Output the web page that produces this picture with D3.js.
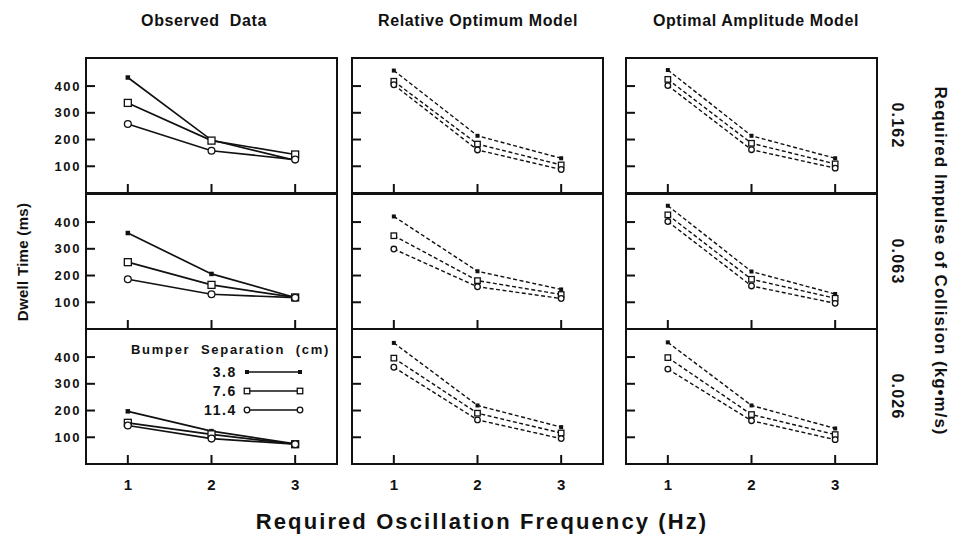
<!DOCTYPE html>
<html>
<head>
<meta charset="utf-8">
<script src="https://cdn.jsdelivr.net/npm/d3@7"></script>
<style>
  body { margin: 0; background: #fff; }
  svg text {
    font-family: "Liberation Sans", Arial, Helvetica, sans-serif;
    font-weight: bold;
    fill: #111;
    white-space: pre;
  }
</style>
</head>
<body>
<svg id="chart" width="960" height="535"></svg>
<script>
// data (ms), each row of a table = one bumper separation: 3.8, 7.6, 11.4 cm
const freqs = [1, 2, 3];
const separations = ['3.8', '7.6', '11.4'];
const impulses = ['0.162', '0.063', '0.026'];
const columnTitles = ['Observed  Data', 'Relative Optimum Model', 'Optimal Amplitude Model'];
const yTickValues = [100, 200, 300, 400];

const observed162 = [[432, 198, 122], [337, 196, 144], [258, 158, 125]];
const observed063 = [[359, 206, 118], [250, 165, 118], [186, 130, 117]];
const observed026 = [[197, 123, 75], [154, 111, 74], [144, 95, 74]];

const relative162 = [[458, 214, 130], [418, 183, 105], [405, 161, 88]];
const relative063 = [[421, 216, 148], [349, 181, 129], [299, 158, 114]];
const relative026 = [[453, 219, 138], [396, 190, 116], [362, 165, 95]];

const amplitude162 = [[460, 214, 130], [425, 186, 109], [402, 162, 93]];
const amplitude063 = [[461, 215, 131], [427, 186, 115], [402, 161, 96]];
const amplitude026 = [[455, 219, 133], [398, 185, 110], [355, 162, 91]];

const grid = [
  [observed162, relative162, amplitude162],
  [observed063, relative063, amplitude063],
  [observed026, relative026, amplitude026],
];

// layout
const colLeft = [86, 352, 626];
const titleX = [204, 478, 756];
const panelW = 251;
const rowTop = [58, 194, 329];
const panelH = 135;
const tickLen = 9;
const ink = '#111';

const svg = d3.select('#chart');

function drawMarker(g, kind, cx, cy, small) {
  const sq = small ? 5.5 : 7;
  const fsq = small ? 4 : 4.5;
  const r = small ? 2.8 : 3.4;
  if (kind === 0) {
    g.append('rect')
      .attr('x', cx - fsq / 2).attr('y', cy - fsq / 2)
      .attr('width', fsq).attr('height', fsq)
      .attr('fill', ink);
  } else if (kind === 1) {
    g.append('rect')
      .attr('x', cx - sq / 2).attr('y', cy - sq / 2)
      .attr('width', sq).attr('height', sq)
      .attr('fill', '#fff').attr('stroke', ink).attr('stroke-width', 1.3);
  } else {
    g.append('circle')
      .attr('cx', cx).attr('cy', cy).attr('r', r)
      .attr('fill', '#fff').attr('stroke', ink).attr('stroke-width', 1.3);
  }
}

function renderPanel(row, col) {
  const left = colLeft[col];
  const top = rowTop[row];
  const x = d3.scaleLinear().domain([0.5, 3.5]).range([left, left + panelW]);
  const y = d3.scaleLinear().domain([0, 505]).range([top + panelH, top]);
  const g = svg.append('g');
  const model = col > 0;

  // 1- frame
  g.append('rect')
    .attr('x', left).attr('y', top)
    .attr('width', panelW).attr('height', panelH)
    .attr('fill', 'none').attr('stroke', ink).attr('stroke-width', 2);

  // 2- inward ticks
  yTickValues.forEach((v) => {
    g.append('line')
      .attr('x1', left).attr('x2', left + tickLen)
      .attr('y1', y(v)).attr('y2', y(v))
      .attr('stroke', ink).attr('stroke-width', 2);
    if (col === 0) {
      g.append('text')
        .attr('x', 81).attr('y', y(v))
        .attr('text-anchor', 'end')
        .attr('dominant-baseline', 'central')
        .attr('font-size', 13)
        .attr('letter-spacing', 1.6)
        .text(v);
    }
  });
  freqs.forEach((f) => {
    g.append('line')
      .attr('x1', x(f)).attr('x2', x(f))
      .attr('y1', top + panelH).attr('y2', top + panelH - tickLen)
      .attr('stroke', ink).attr('stroke-width', 2);
    if (row === 2) {
      g.append('text')
        .attr('x', x(f)).attr('y', 484)
        .attr('text-anchor', 'middle')
        .attr('dominant-baseline', 'central')
        .attr('font-size', 15)
        .text(f);
    }
  });

  // 3- series lines then markers
  const line = d3.line().x((d, i) => x(freqs[i])).y((d) => y(d));
  const series = grid[row][col];
  series.forEach((vals) => {
    g.append('path')
      .attr('d', line(vals))
      .attr('fill', 'none')
      .attr('stroke', ink)
      .attr('stroke-width', model ? 1.4 : 1.7)
      .attr('stroke-dasharray', model ? '4,2.5' : null);
  });
  series.forEach((vals, k) => {
    vals.forEach((v, i) => drawMarker(g, k, x(freqs[i]), y(v), model));
  });
}

for (let r = 0; r < 3; r++) {
  for (let c = 0; c < 3; c++) renderPanel(r, c);
}

// column titles
columnTitles.forEach((t, c) => {
  svg.append('text')
    .attr('x', titleX[c]).attr('y', 20)
    .attr('text-anchor', 'middle')
    .attr('dominant-baseline', 'central')
    .attr('font-size', 16)
    .attr('letter-spacing', 0.6)
    .text(t);
});

// impulse labels, rotated to read downwards
impulses.forEach((t, r) => {
  const cy = rowTop[r] + panelH / 2;
  svg.append('text')
    .attr('transform', `translate(897,${cy}) rotate(90)`)
    .attr('text-anchor', 'middle')
    .attr('dominant-baseline', 'central')
    .attr('font-size', 16)
    .attr('letter-spacing', 1.2)
    .text(t);
});

svg.append('text')
  .attr('transform', 'translate(940,261) rotate(90)')
  .attr('text-anchor', 'middle')
  .attr('dominant-baseline', 'central')
  .attr('font-size', 17)
  .attr('letter-spacing', 1)
  .text('Required Impulse of Collision (kg\u2022m/s)');

svg.append('text')
  .attr('transform', 'translate(22,262) rotate(-90)')
  .attr('text-anchor', 'middle')
  .attr('dominant-baseline', 'central')
  .attr('font-size', 15)
  .attr('letter-spacing', 0.3)
  .text('Dwell Time (ms)');

svg.append('text')
  .attr('x', 482).attr('y', 521)
  .attr('text-anchor', 'middle')
  .attr('dominant-baseline', 'central')
  .attr('font-size', 22)
  .attr('letter-spacing', 2.1)
  .text('Required Oscillation Frequency (Hz)');

// legend inside the bottom observed panel
const legend = svg.append('g');
legend.append('text')
  .attr('x', 131).attr('y', 349)
  .attr('dominant-baseline', 'central')
  .attr('font-size', 13)
  .attr('letter-spacing', 1.7)
  .text('Bumper  Separation  (cm)');
const legendY = [372, 391, 410];
separations.forEach((s, k) => {
  legend.append('text')
    .attr('x', 237).attr('y', legendY[k])
    .attr('text-anchor', 'end')
    .attr('dominant-baseline', 'central')
    .attr('font-size', 14)
    .attr('letter-spacing', 1.6)
    .text(s);
  legend.append('line')
    .attr('x1', 247).attr('x2', 300)
    .attr('y1', legendY[k]).attr('y2', legendY[k])
    .attr('stroke', ink).attr('stroke-width', 1.5);
  drawMarker(legend, k, 247, legendY[k], true);
  drawMarker(legend, k, 300, legendY[k], true);
});
</script>
</body>
</html>
